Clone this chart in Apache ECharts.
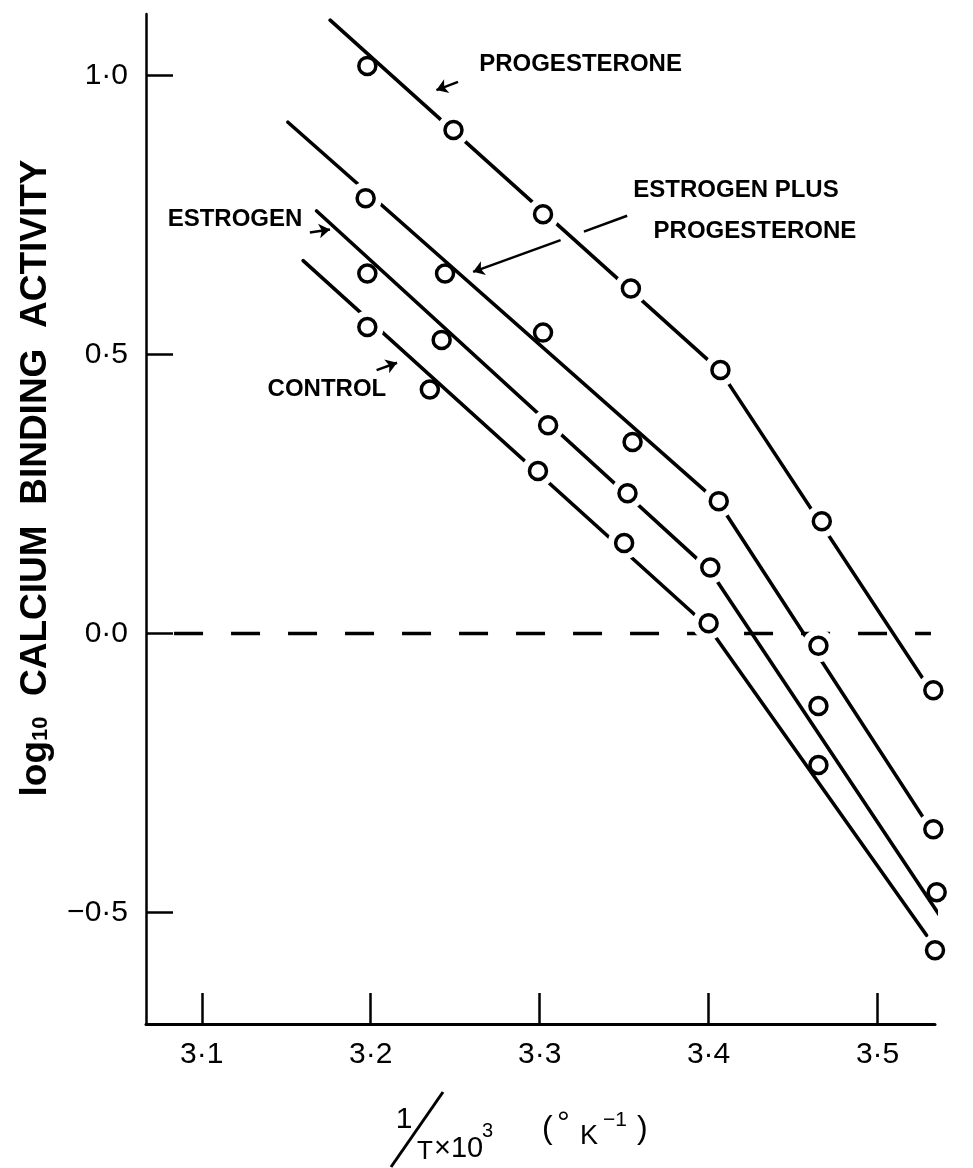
<!DOCTYPE html>
<html>
<head>
<meta charset="utf-8">
<script src="https://cdn.jsdelivr.net/npm/echarts@6/dist/echarts.min.js"></script>
<style>
  html, body { margin: 0; padding: 0; background: #fff; }
  #main { width: 973px; height: 1168px; }
</style>
</head>
<body>
<div id="main"></div>
<script>
// measured points [1/T x 10^3, log10 activity]
var progesterone = [[3.198, 1.017], [3.249, 0.902], [3.302, 0.751], [3.354, 0.618], [3.407, 0.472], [3.467, 0.201], [3.533, -0.102]];
var estrogenPlusProg = [[3.197, 0.780], [3.244, 0.645], [3.302, 0.539], [3.355, 0.343], [3.406, 0.237], [3.465, -0.022], [3.533, -0.351]];
var estrogen = [[3.198, 0.645], [3.242, 0.526], [3.305, 0.373], [3.352, 0.251], [3.401, 0.118], [3.465, -0.130], [3.535, -0.464]];
var control = [[3.198, 0.549], [3.235, 0.437], [3.299, 0.291], [3.350, 0.162], [3.400, 0.018], [3.465, -0.236], [3.534, -0.568]];

// fitted broken lines (start, break, end)
var progFit = [[3.176, 1.099], [3.407, 0.470], [3.556, -0.215]];
var epFit = [[3.151, 0.916], [3.406, 0.234], [3.556, -0.465]];
var estFit = [[3.168, 0.757], [3.401, 0.112], [3.538, -0.511]];
var ctrlFit = [[3.160, 0.668], [3.400, 0.011], [3.529, -0.541]];

var zeroLine = [[3.0836, 0], [3.5316, 0]];

var xTicks = [3.1, 3.2, 3.3, 3.4, 3.5];
var yTicks = [-0.5, 0, 0.5, 1.0];

// annotations
var notes = [
    { name: 'PROGESTERONE', value: [3.3242, 1.0203] },
    { name: 'ESTROGEN PLUS', value: [3.4162, 0.7945] },
    { name: 'PROGESTERONE', value: [3.4274, 0.721] },
    { name: 'ESTROGEN', value: [3.1197, 0.7425] },
    { name: 'CONTROL', value: [3.1741, 0.4378] }
];
var arrows = [
    [[3.2517, 0.9885], [3.2389, 0.9737], true],
    [[3.3518, 0.7484], [3.3262, 0.7199], false],
    [[3.3124, 0.7048], [3.2606, 0.6480], true],
    [[3.1640, 0.7186], [3.1759, 0.7240], true],
    [[3.2035, 0.4719], [3.2156, 0.4850], true]
];

var groups = [progesterone, estrogenPlusProg, estrogen, control];
var fits = [progFit, epFit, estFit, ctrlFit];

var myChart = echarts.init(document.getElementById('main'));

var fmt = function (v) { return v.toFixed(1).replace('.', '·').replace('-', '−'); };
var FONT = 'Liberation Sans';

var series = [];
series.push({
    type: 'line', data: zeroLine, showSymbol: false, z: 1, silent: true,
    lineStyle: { color: '#000', width: 3.5, type: [29, 28] }
});
fits.forEach(function (f) {
    series.push({
        type: 'line', data: f, showSymbol: false, clip: false, z: 2, silent: true,
        lineStyle: { color: '#000', width: 3.6, cap: 'round' }
    });
});
series.push({
    id: 'halo', type: 'scatter', data: [], symbolSize: 33, clip: false, z: 3, silent: true,
    itemStyle: { color: '#fff', opacity: 1 }
});
groups.forEach(function (g) {
    series.push({
        type: 'scatter', data: g, symbol: 'circle', symbolSize: 17, clip: false, z: 4,
        itemStyle: { color: '#fff', borderColor: '#000', borderWidth: 3.5, opacity: 1 }
    });
});
series.push({
    type: 'scatter', data: notes, symbolSize: 1, clip: false, z: 5, silent: true,
    itemStyle: { color: '#fff', opacity: 1 },
    label: {
        show: true, position: 'inside', formatter: '{b}', textBorderWidth: 0, opacity: 1,
        color: '#000', fontSize: 24, fontWeight: 'bold', fontFamily: FONT
    },
    markLine: {
        silent: true, animation: false, symbolSize: 11,
        label: { show: false },
        lineStyle: { color: '#000', width: 2.5, type: 'solid', opacity: 1 },
        data: arrows.map(function (a) {
            return [
                { coord: a[0], symbol: 'none' },
                { coord: a[1], symbol: a[2] ? 'arrow' : 'none' }
            ];
        })
    }
});

// x axis title: 1/T x 10^3 (°K^-1), built from pieces
function t(txt, x, y, size, align) {
    return {
        type: 'text', x: x, y: y, silent: true,
        style: { text: txt, fill: '#000', font: size + 'px "' + FONT + '"', align: align || 'left', verticalAlign: 'middle' }
    };
}
var xTitle = [
    { type: 'line', silent: true, shape: { x1: 443, y1: 1092, x2: 391, y2: 1167 }, style: { stroke: '#000', lineWidth: 3 } },
    t('1', 404, 1120, 30, 'center'),
    t('T', 425, 1152, 26, 'center'),
    t('×10', 434, 1149, 29),
    t('3', 482, 1131, 20),
    t('(', 542, 1129, 32),
    t('°', 557, 1124, 32),
    t('K', 580, 1137, 27),
    t('−1', 603, 1120, 21),
    t(')', 637, 1129, 32)
];

var option = {
    backgroundColor: '#fff',
    animation: false,
    grid: { left: 146, right: 38, top: 14, bottom: 144 },
    graphic: xTitle,
    xAxis: {
        type: 'value', min: 3.067, max: 3.534,
        axisLine: { onZero: false, lineStyle: { color: '#000', width: 3 } },
        axisTick: { inside: true, length: 31, customValues: xTicks, lineStyle: { color: '#000', width: 2.5 } },
        axisLabel: { customValues: xTicks, formatter: fmt, color: '#000', fontSize: 30, margin: 16, fontFamily: FONT },
        splitLine: { show: false }
    },
    yAxis: {
        type: 'value', min: -0.7, max: 1.11,
        axisLine: { show: true, onZero: false, lineStyle: { color: '#000', width: 2.5 } },
        axisTick: { show: true, inside: true, length: 27, customValues: yTicks, lineStyle: { color: '#000', width: 2.5 } },
        axisLabel: { customValues: yTicks, formatter: fmt, color: '#000', fontSize: 30, margin: 18, fontFamily: FONT },
        splitLine: { show: false },
        name: '{m|log}{s|10}{m|  CALCIUM  BINDING  ACTIVITY}',
        nameLocation: 'middle', nameGap: 92,
        nameTextStyle: {
            color: '#000', padding: [0, 0, 0, 82],
            rich: {
                m: { fontSize: 37, fontWeight: 'bold', fontFamily: FONT },
                s: { fontSize: 22, fontWeight: 'bold', fontFamily: FONT, verticalAlign: 'bottom', padding: [0, 0, 2, 0] }
            }
        }
    },
    series: series
};

myChart.setOption(option);

// white gaps round the circles that sit on their fitted line
function segDist(p, a, b) {
    var dx = b[0] - a[0], dy = b[1] - a[1];
    var k = ((p[0] - a[0]) * dx + (p[1] - a[1]) * dy) / (dx * dx + dy * dy);
    k = Math.max(0, Math.min(1, k));
    var qx = a[0] + k * dx - p[0], qy = a[1] + k * dy - p[1];
    return Math.sqrt(qx * qx + qy * qy);
}
var halo = [];
groups.forEach(function (g, i) {
    var fp = fits[i].map(function (v) { return myChart.convertToPixel({ gridIndex: 0 }, v); });
    g.forEach(function (pt) {
        var p = myChart.convertToPixel({ gridIndex: 0 }, pt);
        var d = Math.min(segDist(p, fp[0], fp[1]), segDist(p, fp[1], fp[2]));
        if (d < 7) halo.push(pt);
    });
});
myChart.setOption({ series: [{ id: 'halo', data: halo }] });
</script>
</body>
</html>
